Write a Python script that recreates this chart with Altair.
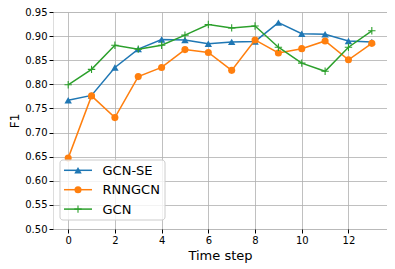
import altair as alt
import pandas as pd

steps = list(range(14))
series_names = ["GCN-SE", "RNNGCN", "GCN"]
gcn_se = [0.767, 0.777, 0.835, 0.873, 0.893, 0.892, 0.884, 0.888, 0.889, 0.928, 0.905, 0.904, 0.890, 0.888]
rnngcn = [0.647, 0.776, 0.731, 0.816, 0.835, 0.872, 0.866, 0.829, 0.892, 0.865, 0.874, 0.890, 0.851, 0.885]
gcn = [0.799, 0.831, 0.881, 0.873, 0.881, 0.902, 0.924, 0.917, 0.921, 0.877, 0.844, 0.827, 0.877, 0.911]
colors = ["#1f77b4", "#ff7f0e", "#2ca02c"]
x_ticks = [0, 2, 4, 6, 8, 10, 12]
y_ticks = [0.50, 0.55, 0.60, 0.65, 0.70, 0.75, 0.80, 0.85, 0.90, 0.95]

PLUS = "M-1,0H1M0,-1V1"
shapes = ["triangle-up", "circle", PLUS]
filled = [True, True, False]
sizes = [55, 50, 55]

rows = []
for name, vals in zip(series_names, [gcn_se, rnngcn, gcn]):
    for s, v in zip(steps, vals):
        rows.append({"step": s, "f1": v, "series": name})
df = pd.DataFrame(rows)

FONT = "DejaVu Sans"
xs = alt.Scale(domain=[-0.65, 13.65], nice=False, zero=False)
ys = alt.Scale(domain=[0.5, 0.95], nice=False, zero=False)
xax = alt.Axis(values=x_ticks, title="Time step", grid=True, gridColor="#b0b0b0", gridWidth=0.8,
               tickColor="black", tickSize=4, labelFontSize=10, titleFontSize=13, titleFontWeight="normal",
               labelColor="black", titleColor="black", domain=False, labelFont=FONT, titleFont=FONT, titlePadding=4)
yax = alt.Axis(values=y_ticks, format=".2f", title="F1", grid=True, gridColor="#b0b0b0", gridWidth=0.8,
               tickColor="black", tickSize=4, labelFontSize=10, titleFontSize=12, titleFontWeight="normal",
               labelColor="black", titleColor="black", domain=False, labelFont=FONT, titleFont=FONT, titlePadding=3)


def marker(data, i):
    if filled[i]:
        return alt.Chart(data).mark_point(shape=shapes[i], filled=True, color=colors[i], size=sizes[i], opacity=1)
    return alt.Chart(data).mark_point(shape=shapes[i], filled=False, color=colors[i], size=sizes[i],
                                      strokeWidth=1.1, opacity=1)


layers = []
for i, name in enumerate(series_names):
    sub = df[df.series == name]
    enc = dict(x=alt.X("step:Q", scale=xs, axis=xax), y=alt.Y("f1:Q", scale=ys, axis=yax))
    layers.append(alt.Chart(sub).mark_line(color=colors[i], strokeWidth=1.5).encode(**enc))
    layers.append(marker(sub, i).encode(**enc))

# manual legend
leg_df = pd.DataFrame({"series": series_names})
layers.append(alt.Chart(leg_df.head(1)).mark_rect(fill="white", fillOpacity=0.8, stroke="#cccccc", cornerRadius=3).encode(
    x=alt.value(7), x2=alt.value(112), y=alt.value(148), y2=alt.value(208)))
for i, name in enumerate(series_names):
    ly = 158.3 + i * 19.4
    d = leg_df.iloc[[i]]
    layers.append(alt.Chart(d).mark_rule(color=colors[i], strokeWidth=1.5).encode(
        x=alt.value(11), x2=alt.value(39), y=alt.value(ly)))
    layers.append(marker(d, i).encode(x=alt.value(25), y=alt.value(ly)))
    layers.append(alt.Chart(d).mark_text(align="left", baseline="middle", fontSize=13, font=FONT, color="black").encode(
        x=alt.value(49.5), y=alt.value(ly + 0.5), text="series:N"))

chart = alt.layer(*layers).properties(
    width=334, height=217, autosize=alt.AutoSizeParams(type="none"),
    padding={"left": 45, "top": 4, "right": 0, "bottom": 40}
).configure_view(stroke="black", strokeWidth=1).configure(background="white")

chart.save("out.html", embed_options={"renderer": "svg", "actions": False})
